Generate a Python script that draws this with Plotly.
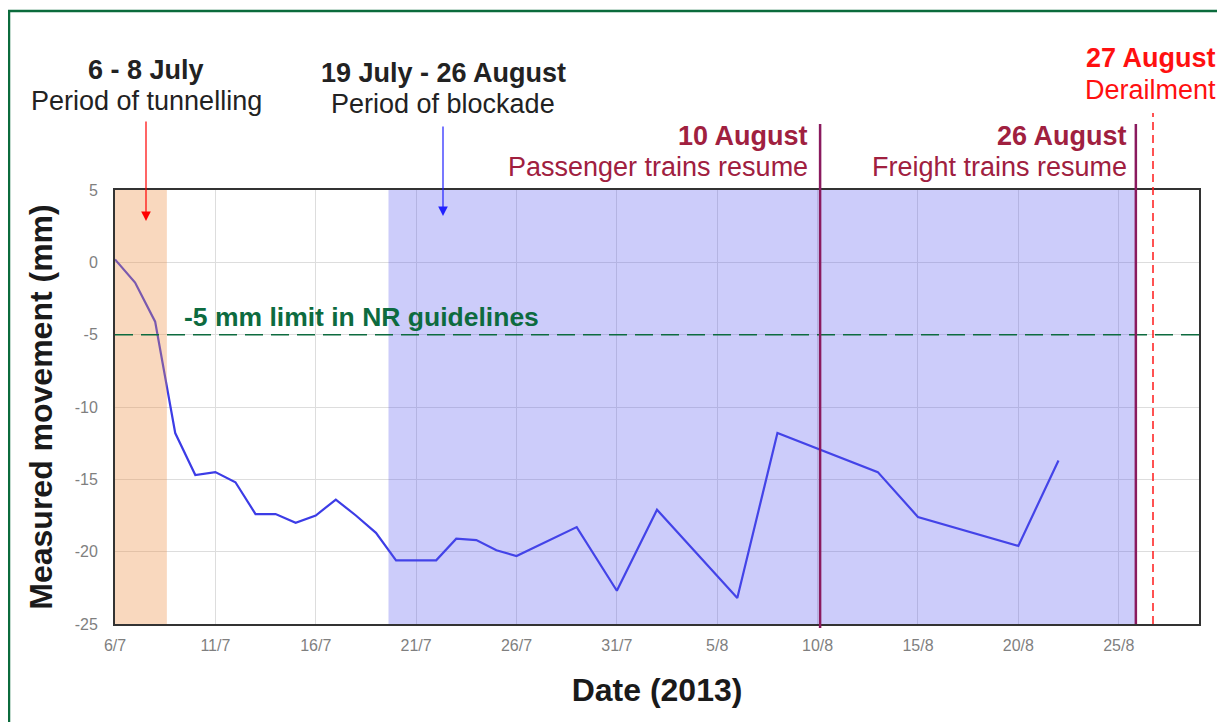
import plotly.graph_objects as go

# ---- data ----
dates = ["2013-07-06", "2013-07-07", "2013-07-08", "2013-07-09", "2013-07-10", "2013-07-11",
         "2013-07-12", "2013-07-13", "2013-07-14", "2013-07-15", "2013-07-16", "2013-07-17",
         "2013-07-18", "2013-07-19", "2013-07-20", "2013-07-22", "2013-07-23", "2013-07-24",
         "2013-07-25", "2013-07-26", "2013-07-29", "2013-07-31", "2013-08-02", "2013-08-06",
         "2013-08-08", "2013-08-13", "2013-08-15", "2013-08-20", "2013-08-22"]
movement = [0.2, -1.4, -4.1, -11.8, -14.7, -14.5, -15.2, -17.4, -17.4, -18.0, -17.5, -16.4,
            -17.5, -18.7, -20.6, -20.6, -19.1, -19.2, -19.9, -20.3, -18.3, -22.7, -17.1, -23.2,
            -11.8, -14.5, -17.6, -19.6, -13.7]

tick_dates = ["2013-07-06", "2013-07-11", "2013-07-16", "2013-07-21", "2013-07-26", "2013-07-31",
              "2013-08-05", "2013-08-10", "2013-08-15", "2013-08-20", "2013-08-25"]
tick_labels = ["6/7", "11/7", "16/7", "21/7", "26/7", "31/7", "5/8", "10/8", "15/8", "20/8", "25/8"]
y_ticks = [5, 0, -5, -10, -15, -20, -25]

tunnelling = ["2013-07-06", "2013-07-08 14:00"]
blockade = ["2013-07-19 15:00", "2013-08-25 20:30"]
passenger_resume = "2013-08-10 03:00"
freight_resume = "2013-08-25 20:30"
derailment = "2013-08-26 17:00"
nr_limit = -5
x_range = ["2013-07-06", "2013-08-29"]
y_range = [-25, 5]

# ---- layout geometry (screen pixels; page body has an 8px margin) ----
OFF = 8
W, H = 1225 - OFF, 722 - OFF
L, R, T, B = 115, 1199, 190, 624  # plot area on screen


def px(x):
    return (x - L) / (R - L)


def py(y):
    return (B - y) / (B - T)


FONT = "Liberation Sans, Arial, sans-serif"
MAROON = "#a0203f"
PURPLE = "#8a1a5e"
GREEN = "#0d6b3f"
SZ = 27

fig = go.Figure()
fig.add_trace(go.Scatter(x=dates, y=movement, mode="lines",
                         line=dict(color="#3c3ce6", width=2.2), hoverinfo="skip",
                         showlegend=False))

shapes = [
    dict(type="rect", xref="x", yref="paper", x0=tunnelling[0], x1=tunnelling[1], y0=0, y1=1,
         fillcolor="rgb(238,144,69)", opacity=0.35, line_width=0, layer="above"),
    dict(type="rect", xref="x", yref="paper", x0=blockade[0], x1=blockade[1], y0=0, y1=1,
         fillcolor="rgb(85,85,238)", opacity=0.3, line_width=0, layer="above"),
    dict(type="line", xref="paper", yref="y", x0=0, x1=1, y0=nr_limit, y1=nr_limit,
         line=dict(color=GREEN, width=1.5, dash="18px,8px"), layer="above"),
    dict(type="line", xref="x", yref="paper", x0=passenger_resume, x1=passenger_resume,
         y0=py(628), y1=py(124), line=dict(color=PURPLE, width=2.5), layer="above"),
    dict(type="line", xref="x", yref="paper", x0=freight_resume, x1=freight_resume,
         y0=0, y1=py(124), line=dict(color=PURPLE, width=2.5), layer="above"),
    dict(type="line", xref="x", yref="paper", x0=derailment, x1=derailment,
         y0=0, y1=py(113), line=dict(color="#ff1a1a", width=1.5, dash="8px,5px"), layer="above"),
    # outer green frame
    dict(type="rect", xref="paper", yref="paper", x0=px(9), x1=px(1240), y0=py(740), y1=py(11),
         line=dict(color="#0b6b3c", width=2.5), fillcolor="rgba(0,0,0,0)", layer="above"),
]

annotations = []


def txt(text, x, y, color, xanchor="center", bold=False, size=SZ):
    annotations.append(dict(text=("<b>%s</b>" % text) if bold else text,
                            xref="paper", yref="paper", x=px(x), y=py(y),
                            xanchor=xanchor, yanchor="middle", showarrow=False,
                            font=dict(family=FONT, size=size, color=color)))


txt("6 - 8 July", 146, 70, "#222222", bold=True)
txt("Period of tunnelling", 146, 101, "#222222")
txt("19 July - 26 August", 443, 73, "#222222", bold=True)
txt("Period of blockade", 443, 104, "#222222")
txt("10 August", 810, 136, MAROON, xanchor="right", bold=True)
txt("Passenger trains resume", 810, 167, MAROON, xanchor="right")
txt("26 August", 1129, 136, MAROON, xanchor="right", bold=True)
txt("Freight trains resume", 1129, 167, MAROON, xanchor="right")
txt("27 August", 1218, 58, "#ff1010", xanchor="right", bold=True)
txt("Derailment", 1218, 90, "#ff1010", xanchor="right")
txt("-5 mm limit in NR guidelines", 182, 317, GREEN, xanchor="left", bold=True, size=26.5)

# arrows
annotations.append(dict(x=px(146), y=py(221), xref="paper", yref="paper", ax=0, ay=-101,
                        text="", showarrow=True, arrowhead=2, arrowsize=1.6, arrowwidth=1.2,
                        arrowcolor="#ff0000"))
annotations.append(dict(x=px(443), y=py(216), xref="paper", yref="paper", ax=0, ay=-91,
                        text="", showarrow=True, arrowhead=2, arrowsize=1.6, arrowwidth=1.2,
                        arrowcolor="#2020ff"))

fig.update_layout(
    width=W, height=H,
    margin=dict(l=L - OFF, r=W - (R - OFF), t=T - OFF, b=H - (B - OFF), autoexpand=False),
    paper_bgcolor="white", plot_bgcolor="white",
    shapes=shapes, annotations=annotations,
    font=dict(family=FONT),
    xaxis=dict(type="date", range=x_range, tickvals=tick_dates, ticktext=tick_labels,
               showgrid=True, gridcolor="#dddddd", gridwidth=1,
               showline=True, linecolor="#333333", linewidth=2, mirror=True,
               ticks="outside", ticklen=6, tickcolor="rgba(0,0,0,0)",
               tickfont=dict(family=FONT, size=16, color="#7f7f7f"),
               title=dict(text="<b>Date (2013)</b>", standoff=25,
                          font=dict(family=FONT, size=32, color="#1a1a1a")),
               fixedrange=True),
    yaxis=dict(range=y_range, tickvals=y_ticks, ticktext=[str(v) for v in y_ticks],
               showgrid=True, gridcolor="#dddddd", gridwidth=1, zeroline=False,
               showline=True, linecolor="#333333", linewidth=2, mirror=True,
               ticks="outside", ticklen=12, tickcolor="rgba(0,0,0,0)",
               tickfont=dict(family=FONT, size=16, color="#7f7f7f"),
               title=dict(text="<b>Measured movement (mm)</b>", standoff=12,
                          font=dict(family=FONT, size=32, color="#1a1a1a")),
               fixedrange=True),
)

fig.write_html("out.html")
